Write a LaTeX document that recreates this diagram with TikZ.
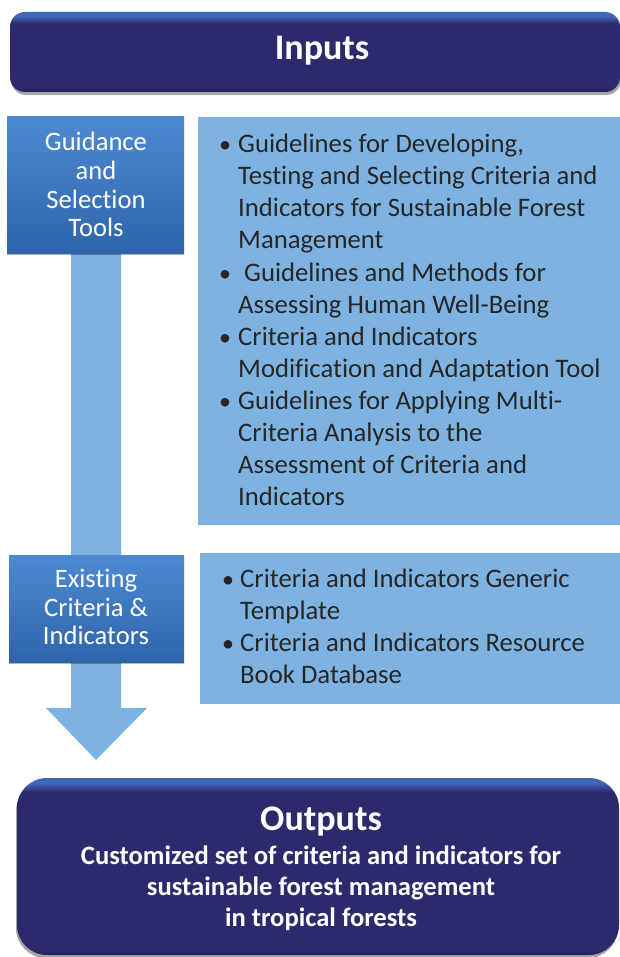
\documentclass[tikz,border=0pt]{standalone}
\usepackage{fontspec}
\setmainfont[Ligatures=NoCommon]{Carlito}
\usetikzlibrary{shadows}
\definecolor{navy}{HTML}{2C2A6D}
\definecolor{navyD}{HTML}{232258}
\definecolor{hl}{HTML}{4067B8}
\definecolor{lightblue}{HTML}{7EB3E1}
\definecolor{midtop}{HTML}{4D8AD3}
\definecolor{midbot}{HTML}{2F64AA}
\definecolor{txt}{HTML}{262626}
\pgfdeclareverticalshading{navybar}{100bp}{color(0bp)=(navyD); color(25bp)=(navyD); color(28bp)=(navy); color(68bp)=(navy); color(72bp)=(hl); color(75bp)=(hl); color(100bp)=(hl)}
\pgfdeclareverticalshading{navybig}{100bp}{color(0bp)=(navyD); color(25bp)=(navyD); color(26.5bp)=(navy); color(71bp)=(navy); color(73.5bp)=(hl); color(75bp)=(hl); color(100bp)=(hl)}
\tikzset{
  barbox/.style={rectangle, inner sep=0pt, draw=none, shading=navybar,
    drop shadow={shadow xshift=1pt, shadow yshift=-3pt, opacity=0.35, fill=black}},
  bigbox/.style={rectangle, inner sep=0pt, draw=none, shading=navybig,
    drop shadow={shadow xshift=-1pt, shadow yshift=-3pt, opacity=0.35, fill=black}},
  midbox/.style={rectangle, inner sep=0pt, draw=none, top color=midtop, bottom color=midbot,
    drop shadow={shadow xshift=0pt, shadow yshift=-1.5pt, opacity=0.3, fill=black}},
  listbox/.style={rectangle, inner sep=0pt, draw=none, fill=lightblue},
  whiteline/.style={anchor=base, inner sep=0pt, text=white, font=\fontsize{26.6}{29}\selectfont},
  listline/.style={anchor=base west, inner sep=0pt, text=txt, font=\fontsize{26.7}{32}\selectfont},
  bulletline/.style={anchor=base west, inner sep=0pt, text=txt, font=\fontsize{24}{32}\selectfont},
  titleline/.style={anchor=base, inner sep=0pt, text=white, font=\fontsize{36}{40}\selectfont\bfseries},
  outline/.style={anchor=base, inner sep=0pt, text=white, font=\fontsize{26.6}{31}\selectfont\bfseries},
}
\begin{document}
\begin{tikzpicture}[x=1pt,y=-1pt]
\useasboundingbox (0,0) rectangle (620,957);
\clip (0,0) rectangle (620,957);
% Inputs bar
\node[barbox, rounded corners=15pt, minimum width=610pt, minimum height=80pt] (inputs) at (315,52) {};
\node[titleline] (inputsT) at (322,60) {Inputs};
% light boxes
\node[listbox, minimum width=422pt, minimum height=408pt] (list1) at (409,321) {};
\node[listbox, minimum width=420pt, minimum height=151pt] (list2) at (410,628.5) {};
% Arrow
\coordinate (sl) at (71,254);
\coordinate (sr) at (121,254);
\coordinate (tip) at (96,760);
\fill[lightblue] (sl) -- (71,708) -- (46,708) -- (tip) -- (147,708) -- (121,708) -- (sr) -- cycle;
% Guidance box
\node[midbox, minimum width=177pt, minimum height=137pt] (guid) at (95.5,185.5) {};
\foreach \y/\t [count=\i] in {151/Guidance, 180/and, 208.5/Selection, 237/Tools}
  \node[whiteline] (g\i) at (96,\y) {\t};
% Existing box
\node[midbox, minimum width=175pt, minimum height=107pt] (exist) at (96.5,608.5) {};
\foreach \y/\t [count=\i] in {587.5/Existing, 616/{Criteria \&}, 644.5/Indicators}
  \node[whiteline] (e\i) at (96,\y) {\t};
% List 1
\foreach \y [count=\i] in {153,281,345,409}
  \node[bulletline] (b\i) at (219,\y) {•};
\foreach \y/\x/\t [count=\i] in {
  153/238/{Guidelines for Developing,},
  185/238/{Testing and Selecting Criteria and},
  217/238/{Indicators for Sustainable Forest},
  249/238/{Management},
  281/244/{Guidelines and Methods for},
  313/238/{Assessing Human Well-Being},
  345/238/{Criteria and Indicators},
  377/238/{Modification and Adaptation Tool},
  409/238/{Guidelines for Applying Multi-},
  441/238/{Criteria Analysis to the},
  473/238/{Assessment of Criteria and},
  505/238/{Indicators}}
  \node[listline] (l\i) at (\x,\y) {\t};
% List 2
\foreach \y [count=\i] in {587,651}
  \node[bulletline] (c\i) at (222,\y) {•};
\foreach \y/\t [count=\i] in {
  587/{Criteria and Indicators Generic},
  619/{Template},
  651/{Criteria and Indicators Resource},
  683/{Book Database}}
  \node[listline] (m\i) at (240,\y) {\t};
% Outputs box
\node[bigbox, rounded corners=30pt, minimum width=602pt, minimum height=177pt] (outputs) at (318,866.5) {};
\node[titleline] (outT) at (321,830) {Outputs};
\foreach \y/\t [count=\i] in {
  864/{Customized set of criteria and indicators for},
  895/{sustainable forest management},
  926/{in tropical forests}}
  \node[outline] (o\i) at (321,\y) {\t};
\end{tikzpicture}
\end{document}
